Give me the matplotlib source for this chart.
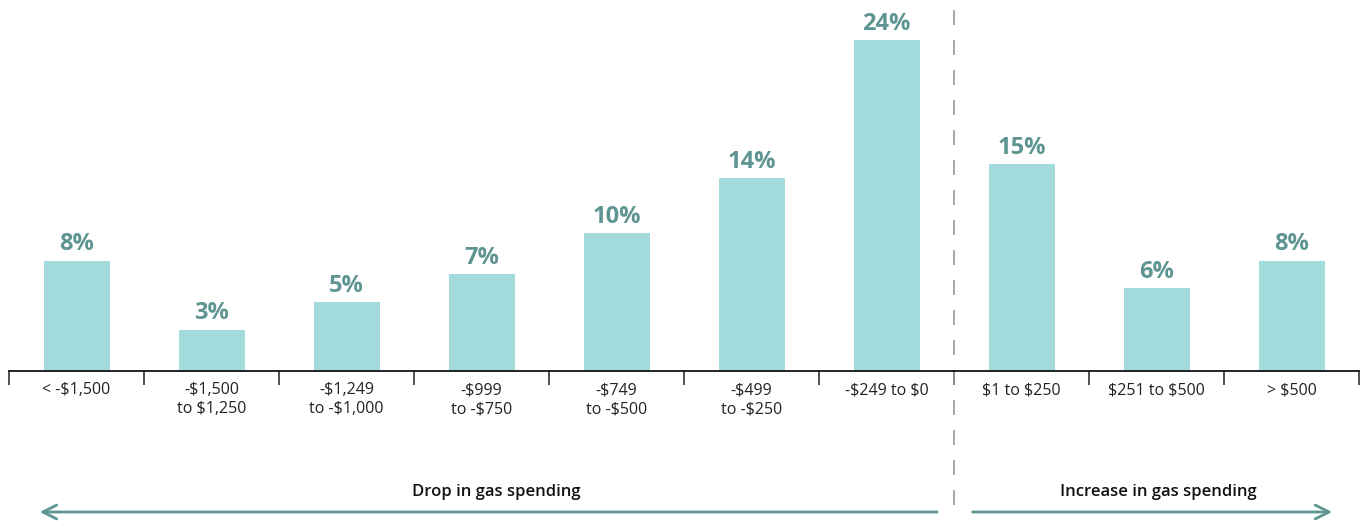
import matplotlib.pyplot as plt
from matplotlib.transforms import blended_transform_factory

# data
categories = ["< -$1,500", "-$1,500\nto $1,250", "-$1,249\nto -$1,000", "-$999\nto -$750",
              "-$749\nto -$500", "-$499\nto -$250", "-$249 to $0",
              "$1 to $250", "$251 to $500", "> $500"]
shares = [8, 3, 5, 7, 10, 14, 24, 15, 6, 8]
group_labels = ["Drop in gas spending", "Increase in gas spending"]

plt.rcParams["font.family"] = ["Open Sans", "DejaVu Sans"]
plt.rcParams["text.parse_math"] = False

bar_color = "#A3DADB"
teal = "#5E9592"

fig = plt.figure(figsize=(13.67, 5.21), dpi=100)
W, H = 1367, 521
ax = fig.add_axes([9 / W, 1 - 371 / H, 1350 / W, 371 / H])

x = list(range(len(categories)))
ax.bar(x, shares, width=66 / 135, color=bar_color)
for xi, v in zip(x, shares):
    ax.text(xi, v + 0.3, f"{v}%", ha="center", va="bottom", fontsize=17,
            fontweight="bold", color=teal)

ax.set_xlim(-0.5, len(categories) - 0.5)
ax.set_ylim(0, 371 / 13.8)

for s in ["top", "right", "left"]:
    ax.spines[s].set_visible(False)
ax.spines["bottom"].set_linewidth(1.2)
ax.set_yticks([])

ax.set_xticks(x)
ax.set_xticklabels(categories, fontsize=11.5, color="#222222", linespacing=1.25)
ax.tick_params(axis="x", which="major", length=0, pad=8)
ax.set_xticks([i - 0.5 for i in range(len(categories) + 1)], minor=True)
ax.tick_params(axis="x", which="minor", length=10, width=1.2, color="#333333")

# divider between drops and increases
trans = blended_transform_factory(ax.transData, fig.transFigure)
ax.plot([6.5, 6.5], [1 - 10 / H, 1 - 515 / H], transform=trans, clip_on=False,
        color="#999999", lw=1.2, dashes=(9, 9))

# group arrows
arrow_y = 1 - 512 / H
ax.annotate("", xy=(-0.293, arrow_y), xytext=(6.396, arrow_y), xycoords=trans,
            textcoords=trans,
            arrowprops=dict(arrowstyle="->,head_length=1.0,head_width=0.5",
                            color=teal, lw=2))
ax.annotate("", xy=(9.322, arrow_y), xytext=(6.618, arrow_y), xycoords=trans,
            textcoords=trans,
            arrowprops=dict(arrowstyle="->,head_length=1.0,head_width=0.5",
                            color=teal, lw=2))
ax.text(3.107, 1 - 492 / H, group_labels[0], transform=trans, ha="center",
        va="center", fontsize=12, fontweight="semibold", color="#111111")
ax.text(8.011, 1 - 492 / H, group_labels[1], transform=trans, ha="center",
        va="center", fontsize=12, fontweight="semibold", color="#111111")

fig.savefig("out.png", dpi=100)
